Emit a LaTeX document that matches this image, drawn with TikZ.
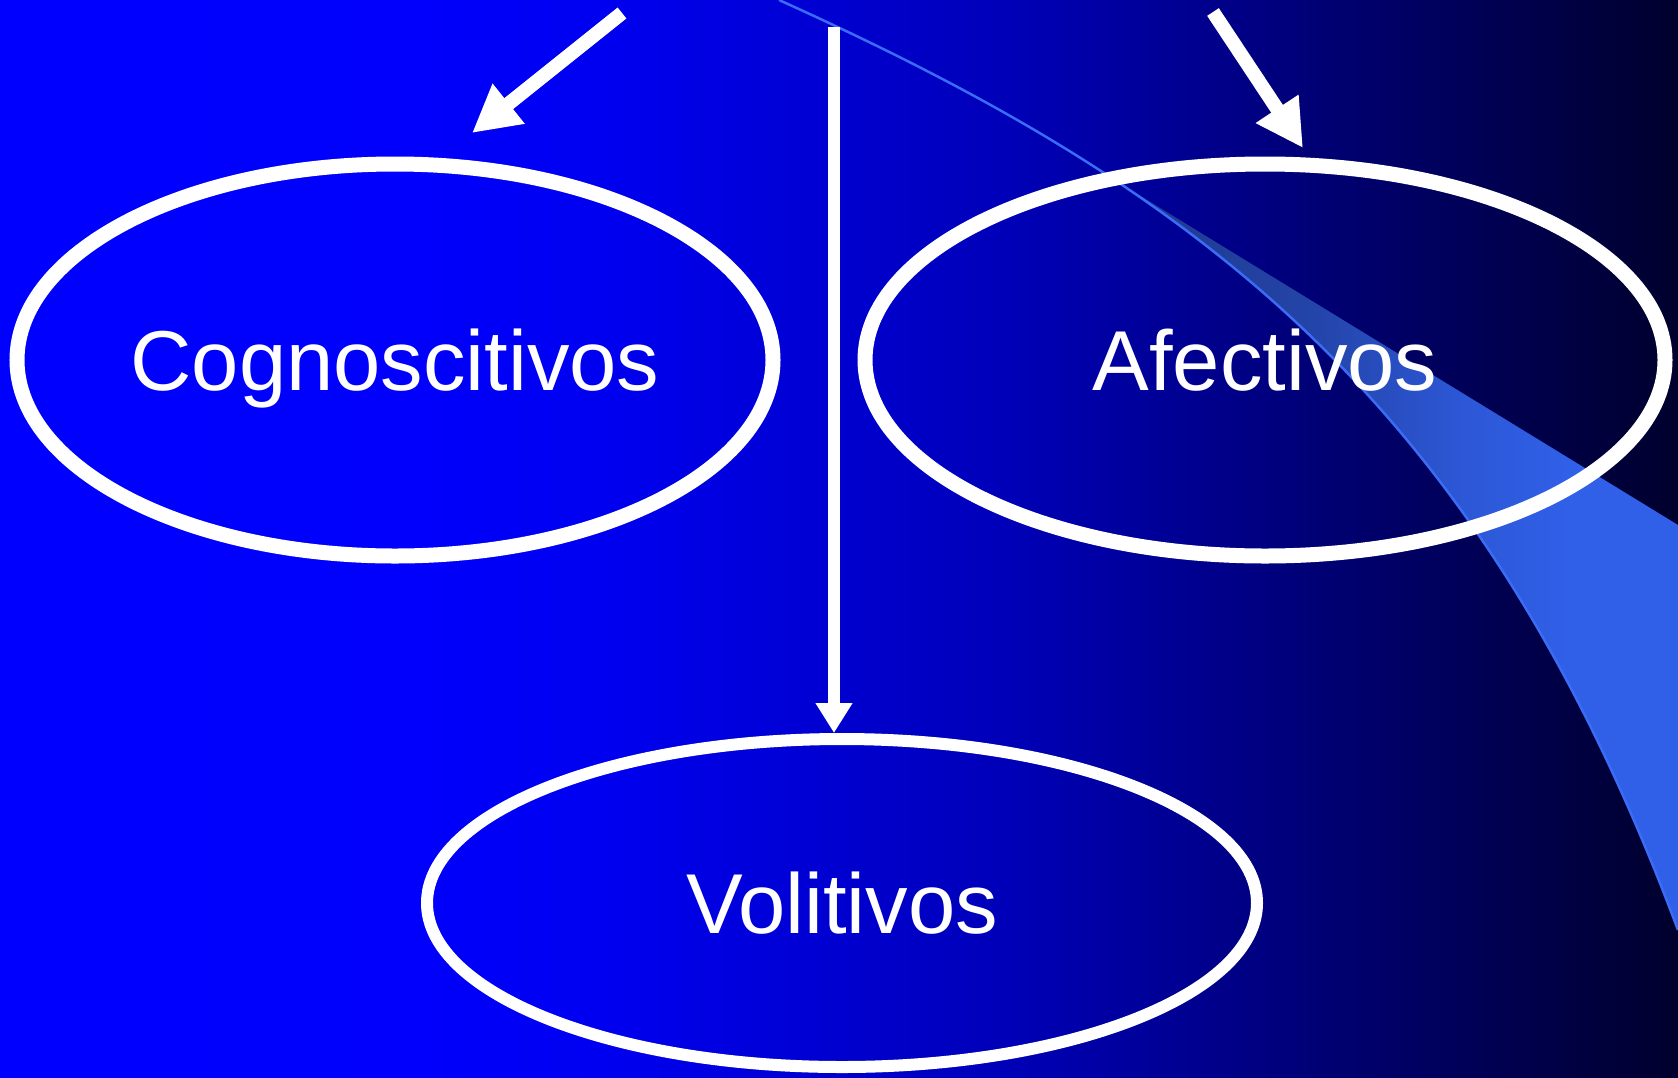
\documentclass[tikz,border=0pt]{standalone}
\usepackage{fontspec}
\setmainfont{Liberation Sans}
\usepackage{tikz}
\usetikzlibrary{positioning}
\usetikzlibrary{shapes.geometric,arrows.meta}
\definecolor{bgA}{RGB}{0,0,255}
\definecolor{bgB}{RGB}{0,0,252}
\definecolor{bgC}{RGB}{0,0,240}
\definecolor{bgD}{RGB}{0,0,184}
\definecolor{bgE}{RGB}{0,0,122}
\definecolor{bgF}{RGB}{0,0,45}
\definecolor{swA}{RGB}{32,56,140}
\definecolor{swB}{RGB}{35,68,168}
\definecolor{swC}{RGB}{44,86,212}
\definecolor{swD}{RGB}{48,96,232}
\definecolor{swline}{RGB}{58,108,245}
\pgfdeclarehorizontalshading{slidebg}{100bp}{color(0bp)=(bgA); color(25bp)=(bgA); color(37.5bp)=(bgB); color(43bp)=(bgC); color(55bp)=(bgD); color(63.5bp)=(bgE); color(75bp)=(bgF); color(100bp)=(bgF)}
\pgfdeclarehorizontalshading{swoosh}{100bp}{color(0bp)=(swA); color(25bp)=(swA); color(42bp)=(swB); color(55bp)=(swC); color(65bp)=(swD); color(100bp)=(swD)}
\tikzstyle{blob}=[ellipse,draw=white,line width=15pt,inner sep=0pt,text=white,font=\fontsize{85}{90}\selectfont,text height=61pt,text depth=0pt]
\tikzstyle{big arrow}=[-{Triangle[length=47pt,width=48pt]},white,line width=14pt]
\tikzstyle{swoosh line}=[swline,line width=2.5pt]
\newcommand{\blobnode}[3][]{
  \node [blob, #1] (#2) {#3}
}

\begin{document}
\begin{tikzpicture}[x=1pt,y=-1pt]
        \useasboundingbox (0,0) rectangle (1678,1077);
        \shade[shading=slidebg] (0,0) rectangle (1678,1077);

        \begin{scope}
            \clip (1121,184) -- (1678,525) -- (1678,1077) -- (1121,1077) -- cycle;
            \clip (779,0) .. controls (1200,190) and (1480,400) .. (1678,930) -- (1678,0) -- cycle;
            \shade[shading=swoosh] (1121,150) rectangle (1678,1000);
        \end{scope}
        \draw[swoosh line] (779,0) .. controls (1200,190) and (1480,400) .. (1678,930);

        \blobnode[minimum width=756pt,minimum height=392pt,at={(395,360)}]{cog}{Cognoscitivos};
        \blobnode[minimum width=800pt,minimum height=392pt,right=77pt of cog]{afe}{Afectivos};
                \blobnode[minimum width=830pt,minimum height=328pt,line width=12pt,at={(842,903)}]{vol}{Volitivos};

        \coordinate (ctail) at (622,13);
        \coordinate (ctip) at (472,133);
        \coordinate (atail) at (1213,12);
        \coordinate (atip) at (1303,148);
        \coordinate (vtail) at (834,27);

            \draw[big arrow] (ctail) -- (ctip);
            \draw[big arrow] (atail) -- (atip);
            \draw[big arrow,line width=12pt,-{Triangle[length=30pt,width=35pt]}] (vtail) -- (vtail |- vol.north);
\end{tikzpicture}
\end{document}
